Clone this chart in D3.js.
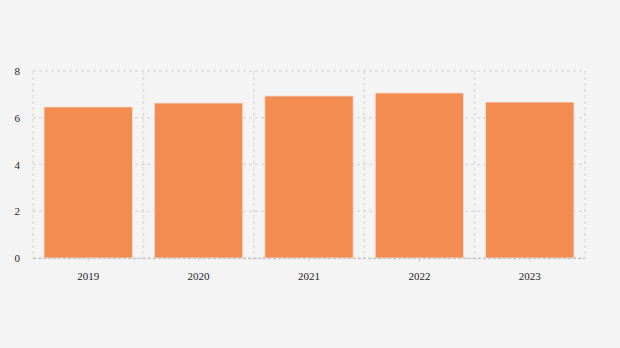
<!DOCTYPE html>
<html>
<head>
<meta charset="utf-8">
<script src="https://cdnjs.cloudflare.com/ajax/libs/d3/7.8.5/d3.min.js"></script>
<style>
  html, body { margin: 0; padding: 0; background: #f4f4f4; }
  svg { display: block; font-family: "Liberation Serif", "Times New Roman", serif; }
</style>
</head>
<body>
<div id="chart"></div>
<script>
const years = ['2019', '2020', '2021', '2022', '2023'];
const values = [6.46, 6.63, 6.93, 7.06, 6.67];
const yTicks = [0, 2, 4, 6, 8];

const width = 620, height = 348;
const margin = {top: 71, right: 35, bottom: 90, left: 33};

const svg = d3.select('#chart').append('svg')
  .attr('width', width)
  .attr('height', height);

svg.append('rect')
  .attr('width', width)
  .attr('height', height)
  .attr('fill', '#f4f4f4');

const x = d3.scaleBand()
  .domain(years)
  .range([margin.left, width - margin.right])
  .paddingInner(0.2)
  .paddingOuter(0.1);

const y = d3.scaleLinear()
  .domain([0, 8])
  .range([height - margin.bottom, margin.top]);

const grid = svg.append('g').attr('class', 'grid');

// horizontal grid
grid.selectAll('line.h')
  .data(yTicks)
  .join('line')
  .attr('class', 'h')
  .attr('x1', margin.left)
  .attr('x2', width - margin.right)
  .attr('y1', d => y(d))
  .attr('y2', d => y(d))
  .attr('stroke', '#dcdcdc')
  .attr('stroke-width', 1.5)
  .attr('stroke-dasharray', '3,3');

// vertical grid at band boundaries
const bounds = years.map(d => x(d) - x.step() * x.paddingOuter())
  .concat([width - margin.right]);
grid.selectAll('line.v')
  .data(bounds)
  .join('line')
  .attr('class', 'v')
  .attr('x1', d => d)
  .attr('x2', d => d)
  .attr('y1', y(8))
  .attr('y2', y(0))
  .attr('stroke', '#dcdcdc')
  .attr('stroke-width', 1.5)
  .attr('stroke-dasharray', '3,3');

// bars
svg.append('g')
  .selectAll('rect')
  .data(values)
  .join('rect')
  .attr('x', (d, i) => x(years[i]))
  .attr('y', d => y(d))
  .attr('width', x.bandwidth())
  .attr('height', d => y(0) - y(d))
  .attr('fill', '#f28c50')
  .attr('stroke', '#f8e0d2')
  .attr('stroke-width', 0.8);

// x axis
const xAxis = svg.append('g')
  .attr('transform', `translate(0,${y(0)})`)
  .call(d3.axisBottom(x).tickSize(4).tickPadding(10));
xAxis.attr('font-family', '"Liberation Serif", serif');
xAxis.select('.domain')
  .attr('d', `M${margin.left},0.5H${width - margin.right}`)
  .attr('stroke', '#c8c8c8')
  .attr('stroke-width', 1.5)
  .attr('stroke-dasharray', '3,2');
xAxis.selectAll('.tick line').attr('stroke', '#d8d8d8');
xAxis.selectAll('.tick text')
  .attr('fill', '#222')
  .style('font-size', '11px');

// y axis
const yAxis = svg.append('g')
  .attr('transform', `translate(${margin.left},0)`)
  .call(d3.axisLeft(y).tickValues(yTicks).tickSize(0).tickPadding(13));
yAxis.attr('font-family', '"Liberation Serif", serif');
yAxis.select('.domain').remove();
yAxis.selectAll('.tick text')
  .attr('fill', '#222')
  .style('font-size', '11px');
</script>
</body>
</html>
